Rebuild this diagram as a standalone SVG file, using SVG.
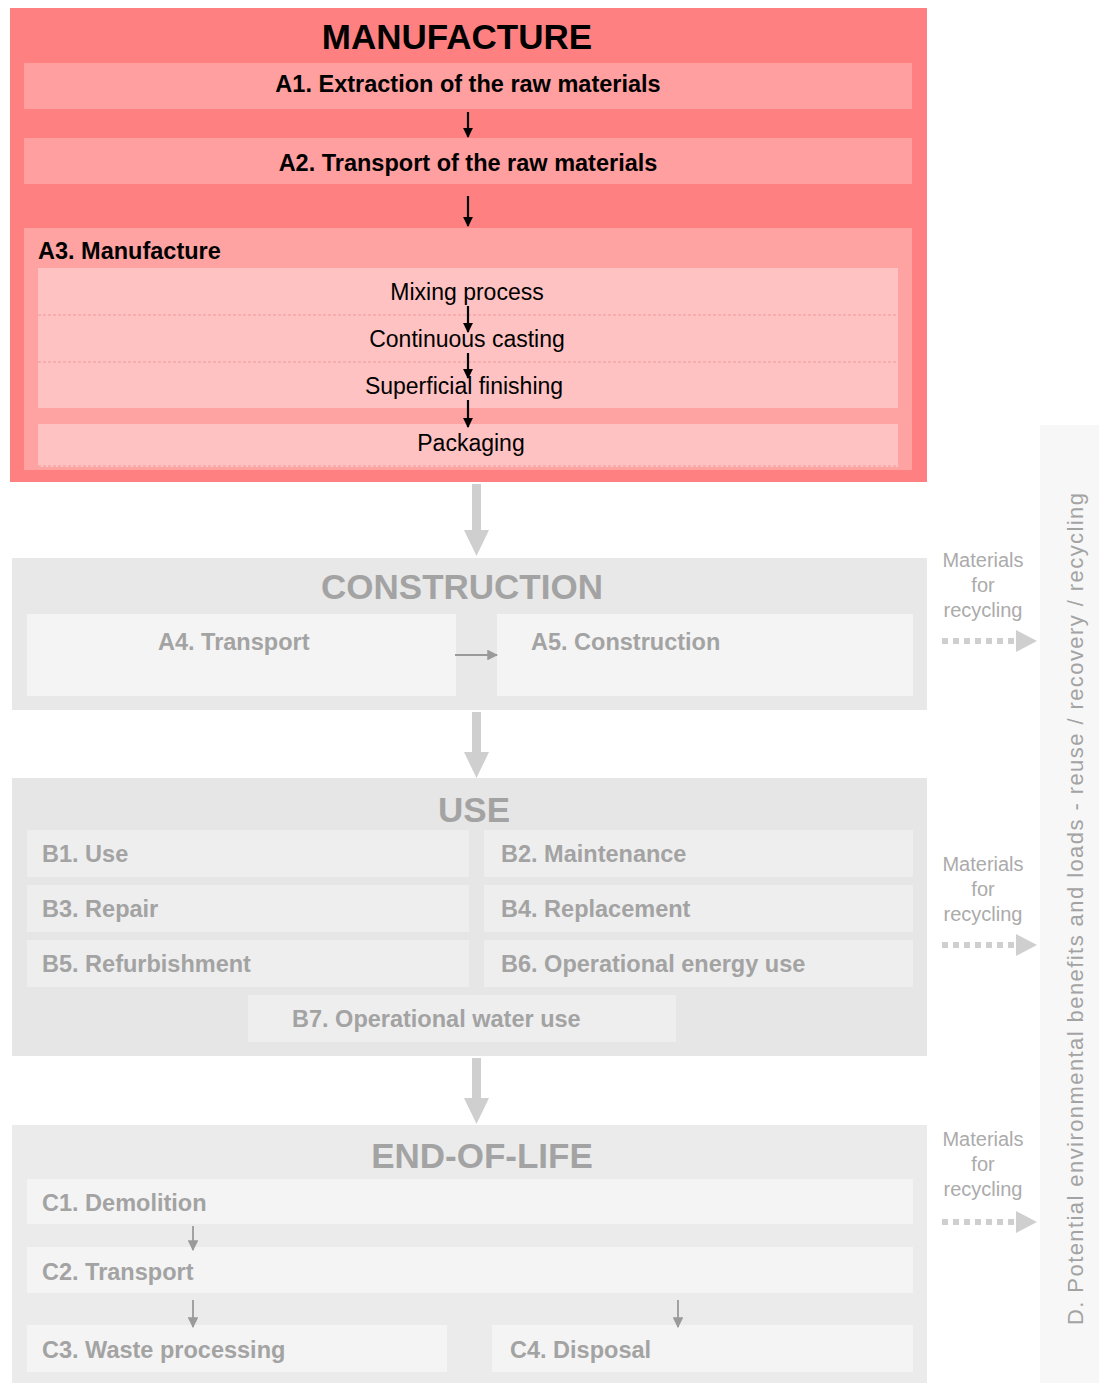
<svg xmlns="http://www.w3.org/2000/svg" width="1099" height="1383" viewBox="0 0 1099 1383">
<defs>
<style>
.t{font-family:"Liberation Sans",Arial,sans-serif}
.title{font-size:35px;font-weight:bold;text-anchor:middle}
.bar{font-size:23.5px;font-weight:bold}
.sub{font-size:23px;text-anchor:middle;fill:#000}
.g{fill:#a3a3a3}
.gbox{fill:#f4f4f4}
.mat{font-size:20px;text-anchor:middle;fill:#ababab}
</style>
<marker id="ab" viewBox="0 0 10 10" refX="9" refY="5" markerWidth="4.5" markerHeight="4.5" orient="auto"><path d="M0,0 L10,5 L0,10 z" fill="#000"/></marker>
<marker id="ag" viewBox="0 0 10 10" refX="9" refY="5" markerWidth="6" markerHeight="6" orient="auto"><path d="M0,0 L10,5 L0,10 z" fill="#9a9a9a"/></marker>
</defs>
<rect width="1099" height="1383" fill="#fff"/>

<g id="manufacture">
<rect x="10" y="8" width="917" height="474" fill="#ff8080"/>
<text class="t title" x="457" y="49" fill="#000">MANUFACTURE</text>
</g>
<g id="a1">
<rect x="24" y="63" width="888" height="46" fill="#ff9f9f"/>
<text class="t bar" x="468" y="92" text-anchor="middle">A1. Extraction of the raw materials</text>
</g>
<g id="a2">
<rect x="24" y="138" width="888" height="46" fill="#ff9f9f"/>
<text class="t bar" x="468" y="171" text-anchor="middle">A2. Transport of the raw materials</text>
</g>
<g id="a3">
<rect x="24" y="228" width="888" height="242" fill="#ffa2a2"/>
<text class="t bar" x="38" y="259">A3. Manufacture</text>
<rect x="38" y="268" width="860" height="140" fill="#ffc2c2"/>
<line x1="38" y1="315" x2="898" y2="315" stroke="#f2a6a6" stroke-width="1.5" stroke-dasharray="3,2"/>
<line x1="38" y1="362" x2="898" y2="362" stroke="#f2a6a6" stroke-width="1.5" stroke-dasharray="3,2"/>
<rect x="38" y="424" width="860" height="43" fill="#ffc2c2"/>
<line x1="38" y1="466" x2="898" y2="466" stroke="#f2a6a6" stroke-width="1.5" stroke-dasharray="3,2"/>
</g>
<g id="mixing"><text class="t sub" x="467" y="300">Mixing process</text></g>
<g id="casting"><text class="t sub" x="467" y="347">Continuous casting</text></g>
<g id="finishing"><text class="t sub" x="464" y="394">Superficial finishing</text></g>
<g id="packaging"><text class="t sub" x="471" y="451">Packaging</text></g>

<g id="construction">
<rect x="12" y="558" width="915" height="152" fill="#e8e8e8"/>
<text class="t title g" x="462" y="599">CONSTRUCTION</text>
</g>
<g id="a4">
<rect class="gbox" x="27" y="614" width="429" height="82"/>
<text class="t bar g" x="158" y="650">A4. Transport</text>
</g>
<g id="a5">
<rect class="gbox" x="497" y="614" width="416" height="82"/>
<text class="t bar g" x="531" y="650">A5. Construction</text>
</g>

<g id="use">
<rect x="12" y="778" width="915" height="278" fill="#e6e6e6"/>
<text class="t title g" x="474" y="822">USE</text>
</g>
<g id="b1"><rect x="27" y="830" width="442" height="47" fill="#eeeeee"/><text class="t bar g" x="42" y="862">B1. Use</text></g>
<g id="b2"><rect x="484" y="830" width="429" height="47" fill="#eeeeee"/><text class="t bar g" x="501" y="862">B2. Maintenance</text></g>
<g id="b3"><rect x="27" y="885" width="442" height="47" fill="#eeeeee"/><text class="t bar g" x="42" y="917">B3. Repair</text></g>
<g id="b4"><rect x="484" y="885" width="429" height="47" fill="#eeeeee"/><text class="t bar g" x="501" y="917">B4. Replacement</text></g>
<g id="b5"><rect x="27" y="940" width="442" height="47" fill="#eeeeee"/><text class="t bar g" x="42" y="972">B5. Refurbishment</text></g>
<g id="b6"><rect x="484" y="940" width="429" height="47" fill="#eeeeee"/><text class="t bar g" x="501" y="972">B6. Operational energy use</text></g>
<g id="b7"><rect x="248" y="995" width="428" height="47" fill="#eeeeee"/><text class="t bar g" x="292" y="1027">B7. Operational water use</text></g>

<g id="endoflife">
<rect x="12" y="1125" width="915" height="258" fill="#ebebeb"/>
<text class="t title g" x="482" y="1168">END-OF-LIFE</text>
</g>
<g id="c1"><rect class="gbox" x="27" y="1179" width="886" height="45"/><text class="t bar g" x="42" y="1211">C1. Demolition</text></g>
<g id="c2"><rect class="gbox" x="27" y="1247" width="886" height="46"/><text class="t bar g" x="42" y="1280">C2. Transport</text></g>
<g id="c3"><rect class="gbox" x="27" y="1325" width="420" height="47"/><text class="t bar g" x="42" y="1358">C3. Waste processing</text></g>
<g id="c4"><rect class="gbox" x="492" y="1325" width="421" height="47"/><text class="t bar g" x="510" y="1358">C4. Disposal</text></g>

<g id="d">
<rect x="1040" y="425" width="59" height="958" fill="#f7f7f7"/>
<text class="t" x="0" y="0" transform="translate(1083,1325) rotate(-90)" font-size="22" fill="#a3a3a3" textLength="832" lengthAdjust="spacing">D. Potential environmental benefits and loads - reuse / recovery / recycling</text>
</g>
<g id="mat1" class="t mat"><text x="983" y="567">Materials</text><text x="983" y="592">for</text><text x="983" y="617">recycling</text></g>
<g id="mat2" class="t mat"><text x="983" y="871">Materials</text><text x="983" y="896">for</text><text x="983" y="921">recycling</text></g>
<g id="mat3" class="t mat"><text x="983" y="1146">Materials</text><text x="983" y="1171">for</text><text x="983" y="1196">recycling</text></g>

<g id="connectors">
<line x1="468" y1="112" x2="468" y2="137" stroke="#000" stroke-width="2.2" marker-end="url(#ab)"/>
<line x1="468" y1="196" x2="468" y2="226" stroke="#000" stroke-width="2.2" marker-end="url(#ab)"/>
<line x1="468" y1="306" x2="468" y2="332" stroke="#000" stroke-width="2.2" marker-end="url(#ab)"/>
<line x1="468" y1="353" x2="468" y2="378" stroke="#000" stroke-width="2.2" marker-end="url(#ab)"/>
<line x1="468" y1="400" x2="468" y2="427" stroke="#000" stroke-width="2.2" marker-end="url(#ab)"/>
<path d="M472,484 H481 V530 H489 L476.5,556 L464,530 H472 Z" fill="#cfcfcf"/>
<path d="M472,712 H481 V752 H489 L476.5,778 L464,752 H472 Z" fill="#cfcfcf"/>
<path d="M472,1058 H481 V1098 H489 L476.5,1124 L464,1098 H472 Z" fill="#cfcfcf"/>
<line x1="455" y1="655" x2="497" y2="655" stroke="#9a9a9a" stroke-width="1.8" marker-end="url(#ag)"/>
<line x1="193" y1="1226" x2="193" y2="1250" stroke="#9a9a9a" stroke-width="1.8" marker-end="url(#ag)"/>
<line x1="193" y1="1300" x2="193" y2="1327" stroke="#9a9a9a" stroke-width="1.8" marker-end="url(#ag)"/>
<line x1="678" y1="1300" x2="678" y2="1327" stroke="#9a9a9a" stroke-width="1.8" marker-end="url(#ag)"/>
<line x1="942" y1="641" x2="1014" y2="641" stroke="#cfcfcf" stroke-width="6" stroke-dasharray="6,5"/>
<path d="M1016,630 L1037,641 L1016,652 Z" fill="#cfcfcf"/>
<line x1="942" y1="945" x2="1014" y2="945" stroke="#cfcfcf" stroke-width="6" stroke-dasharray="6,5"/>
<path d="M1016,934 L1037,945 L1016,956 Z" fill="#cfcfcf"/>
<line x1="942" y1="1222" x2="1014" y2="1222" stroke="#cfcfcf" stroke-width="6" stroke-dasharray="6,5"/>
<path d="M1016,1211 L1037,1222 L1016,1233 Z" fill="#cfcfcf"/>
</g>
</svg>
